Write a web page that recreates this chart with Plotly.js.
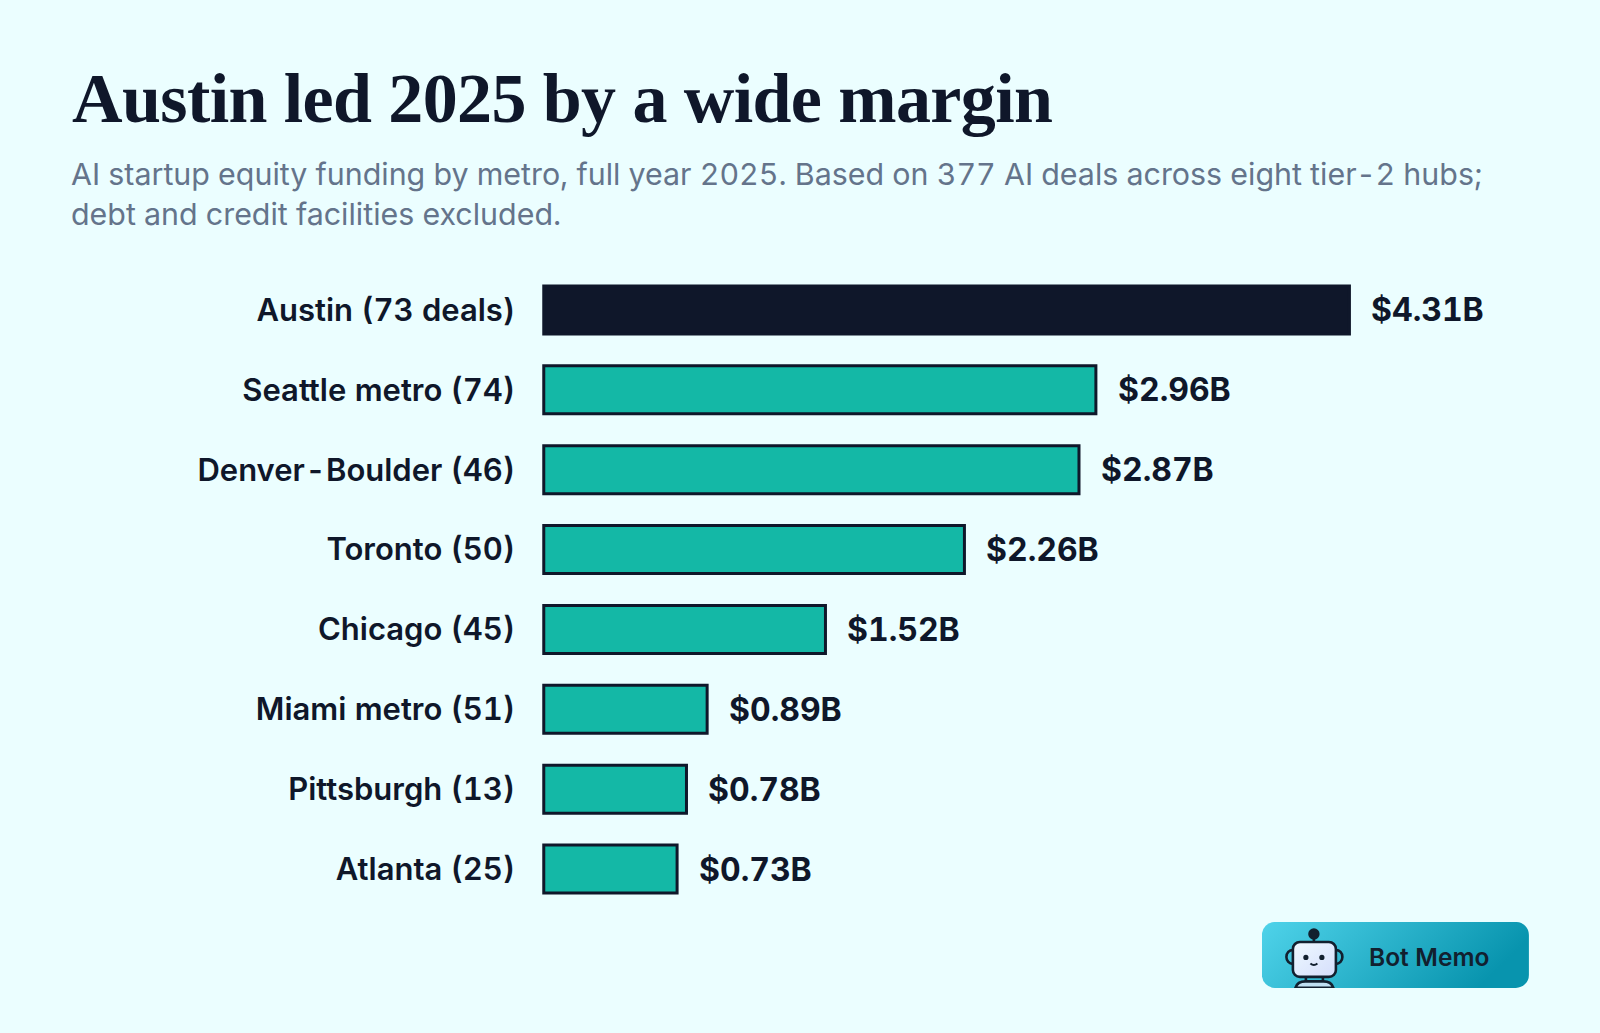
<!DOCTYPE html>
<html>
<head>
<meta charset="utf-8">
<script src="https://cdn.plot.ly/plotly-3.0.1.min.js"></script>
<style>
html,body{margin:0;padding:0;background:#ebfeff;overflow:hidden}
#chart{width:1600px;height:1033px}
svg text{font-variant-numeric:tabular-nums !important;font-feature-settings:"tnum" 1}
.gtitle{letter-spacing:-0.6px}
</style>
</head>
<body>
<div id="chart"></div>
<script>
const categories = ["Austin (73 deals)","Seattle metro (74)","Denve<span style='letter-spacing:4px'>r\u2011</span>Boulder (46)","Toronto (50)","Chicago (45)","Miami metro (51)","Pittsburgh (13)","Atlanta (25)"];
const valuesB = [4.31,2.96,2.87,2.26,1.52,0.89,0.78,0.73];
const valueLabels = ["$4.31B","$2.96B","$2.87B","$2.26B","$1.52B","$0.89B","$0.78B","$0.73B"];
const barColors = ["#0f172a","#14b8a6","#14b8a6","#14b8a6","#14b8a6","#14b8a6","#14b8a6","#14b8a6"];
const titleText = "Austin led 2025 by a wide margin";
const subtitleLines = ["AI startup equity funding by metro, full year 2025. Based on 377 AI deals across eight tie<span style='letter-spacing:4px'>r\u2011</span>2 hubs;","debt and credit facilities excluded."];
const brandText = "Bot Memo";
const barStart = 0.02;

const W = 1600, H = 1033;
const m = {l:540.1, r:59.9, t:269.5, b:123.5};
const plotW = W-m.l-m.r, plotH = H-m.t-m.b;
const px = x => (x-m.l)/plotW;
const py = y => 1-(y-m.t)/plotH;
const ink = "#0f172a";
const sans = "Inter, 'Noto Sans', sans-serif";

const badge = `<svg xmlns="http://www.w3.org/2000/svg" width="267" height="66" viewBox="0 0 267 66">
<defs><linearGradient id="g" x1="0" y1="0" x2="1" y2="0.25"><stop offset="0" stop-color="#4fd3ea"/><stop offset="1" stop-color="#0894ae"/></linearGradient>
<linearGradient id="f" x1="0" y1="0" x2="1" y2="1"><stop offset="0" stop-color="#eef9ff"/><stop offset="1" stop-color="#d5defc"/></linearGradient>
<clipPath id="c"><rect width="267" height="66" rx="13"/></clipPath></defs>
<rect width="267" height="66" rx="13" fill="url(#g)"/>
<g clip-path="url(#c)" stroke="#12202f" stroke-width="2.600" fill="none">
<circle cx="52" cy="12" r="4.400" fill="#12202f"/><line x1="52" y1="14" x2="52" y2="20"/>
<path d="M31 28 a6.500 7 0 0 0 0 14 M74 28 a6.500 7 0 0 1 0 14"/>
<rect x="31" y="20" width="43" height="35" rx="7" fill="url(#f)"/>
<circle cx="44" cy="35.500" r="1.900" fill="#12202f" stroke-width="1.400"/><circle cx="60" cy="35.500" r="1.900" fill="#12202f" stroke-width="1.400"/>
<path d="M48.500 41.500 q3.500 3 7 0" stroke-width="2"/>
<path d="M44 55 v5 M61 55 v5"/>
<path d="M33.500 66 q2 -6.500 10 -6.500 h18 q8 0 10 6.500 z" fill="#bfe0f2"/>
</g></svg>`;

const data = [{
  type:"bar", orientation:"h",
  y:categories, x:valuesB.map(v=>v-barStart), base:barStart,
  marker:{color:barColors, line:{color:ink, width:3}},
  hoverinfo:"skip"
}];

const annotations = [
  {xref:"paper",yref:"paper",x:px(69),y:py(173),xanchor:"left",yanchor:"middle",showarrow:false,text:subtitleLines[0],font:{family:sans,size:30.4,color:"#64748b"}},
  {xref:"paper",yref:"paper",x:px(69),y:py(213),xanchor:"left",yanchor:"middle",showarrow:false,text:subtitleLines[1],font:{family:sans,size:30.4,color:"#64748b"}},
  {xref:"paper",yref:"paper",x:px(1367),y:py(958),xanchor:"left",yanchor:"middle",showarrow:false,text:brandText,font:{family:sans,size:24.5,weight:600,color:"#12202f"}}
].concat(categories.map((c,i)=>({
  xref:"x",yref:"y",x:valuesB[i],y:c,xanchor:"left",yanchor:"middle",xshift:20,showarrow:false,
  text:valueLabels[i],font:{family:sans,size:32,weight:700,color:ink}
})));

const layout = {
  width:W,height:H,margin:m,
  paper_bgcolor:"#ebfeff",plot_bgcolor:"#ebfeff",
  showlegend:false,bargap:0.4,
  title:{text:titleText,x:72/W,xref:"container",xanchor:"left",y:1-122/H,yref:"container",yanchor:"bottom",pad:{t:0,b:0,l:0,r:0},
    font:{family:"'Liberation Serif', serif",size:70,weight:700,color:ink}},
  xaxis:{range:[0,plotW/187.8],visible:false,fixedrange:true},
  yaxis:{autorange:"reversed",type:"category",showgrid:false,showline:false,zeroline:false,ticks:"",ticklabelstandoff:24,
    tickfont:{family:sans,size:31,weight:600,color:ink},fixedrange:true},
  annotations,
  images:[{source:"data:image/svg+xml;charset=utf-8,"+encodeURIComponent(badge),xref:"paper",yref:"paper",
    x:px(1262),y:py(922.5),sizex:267/plotW,sizey:66/plotH,xanchor:"left",yanchor:"top",sizing:"stretch",layer:"below"}]
};
Plotly.newPlot("chart",data,layout,{displayModeBar:false,staticPlot:true});
</script>
</body>
</html>
